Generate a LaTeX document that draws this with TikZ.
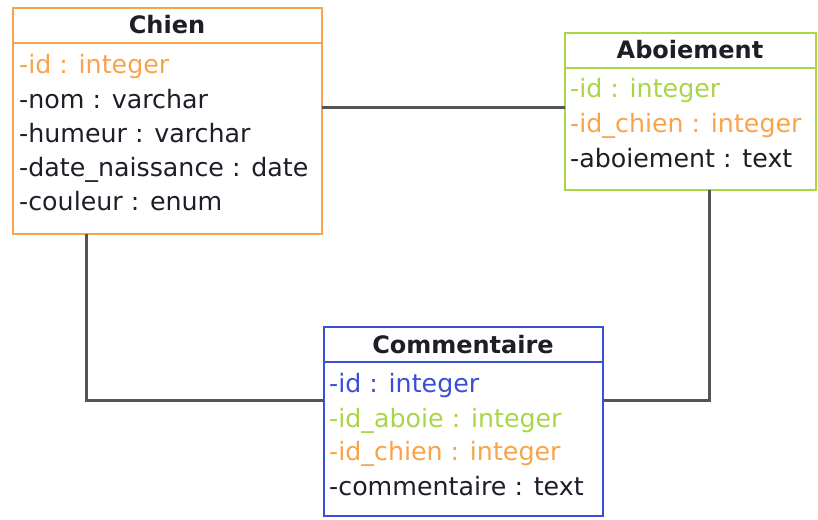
\documentclass[tikz,border=0pt]{standalone}
\usepackage{fontspec}
\setmainfont{DejaVu Sans}
\definecolor{orangeC}{HTML}{F9A34B}
\definecolor{greenC}{HTML}{A9D646}
\definecolor{blueC}{HTML}{3A4FD8}
\definecolor{darkT}{HTML}{1E1E28}
\definecolor{lineC}{HTML}{555555}
\begin{document}
\begin{tikzpicture}[x=1pt,y=-1pt,
  box/.style={draw=#1, line width=2.5pt, fill=white, rectangle, anchor=north west, inner sep=0pt, outer sep=0pt},
  divider/.style={draw=#1, line width=2.5pt},
  title/.style={font=\fontsize{24}{28}\selectfont\bfseries, text=darkT, anchor=base, inner sep=0pt},
  row/.style={font=\fontsize{25.3}{29}\selectfont, text=#1, anchor=base west, inner sep=0pt},
  conn/.style={draw=lineC, line width=3pt}]
\useasboundingbox (0,0) rectangle (818,519);
\fill[white] (0,0) rectangle (818,519);

% Chien
\node[box=orangeC, minimum width=309pt, minimum height=226pt] (chien) at (13,8) {};
\draw[divider=orangeC] (chien.west |- 0,43) -- (chien.east |- 0,43);
\node[title] (chienT) at (167,34) {Chien};
\node[row=orangeC] (c1) at (19,73) {-id : integer};
\node[row=darkT] (c2) at (19,108) {-nom : varchar};
\node[row=darkT] (c3) at (19,142) {-humeur : varchar};
\node[row=darkT] (c4) at (19,176) {-date\_naissance : date};
\node[row=darkT] (c5) at (19,210) {-couleur : enum};

% Aboiement
\node[box=greenC, minimum width=251pt, minimum height=157pt] (aboi) at (565,33) {};
\draw[divider=greenC] (aboi.west |- 0,68) -- (aboi.east |- 0,68);
\node[title] (aboiT) at (690,59) {Aboiement};
\node[row=greenC] (a1) at (570,97) {-id : integer};
\node[row=orangeC] (a2) at (570,132) {-id\_chien : integer};
\node[row=darkT] (a3) at (570,167) {-aboiement : text};

% Commentaire
\node[box=blueC, minimum width=279pt, minimum height=189pt] (comm) at (324,327) {};
\draw[divider=blueC] (comm.west |- 0,362) -- (comm.east |- 0,362);
\node[title] (commT) at (463,353) {Commentaire};
\node[row=blueC] (m1) at (329,392) {-id : integer};
\node[row=greenC] (m2) at (329,427) {-id\_aboie : integer};
\node[row=orangeC] (m3) at (329,460) {-id\_chien : integer};
\node[row=darkT] (m4) at (329,495) {-commentaire : text};

% connectors
\draw[conn] (chien.east |- 0,107) -- (aboi.west |- 0,107);
\draw[conn] (chien.south -| 86,0) |- (comm.west |- 0,400);
\draw[conn] (aboi.south -| 709,0) |- (comm.east |- 0,400);
\end{tikzpicture}
\end{document}
